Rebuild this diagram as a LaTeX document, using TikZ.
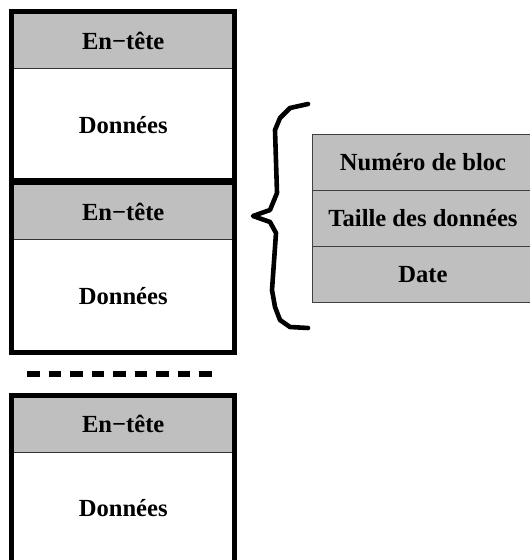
\documentclass[tikz,border=0pt]{standalone}
\usepackage{fontspec}
\setmainfont{Liberation Serif}
\usepackage{tikz}
\usetikzlibrary{positioning}
\definecolor{gris}{rgb}{0.75,0.75,0.75}
\tikzset{
  entete/.style={
    draw=black!80,
    line width=.5pt,
    fill=gris,
    align=center,
    minimum width=111.75pt,
    minimum height=28.5pt,
    inner sep=0pt,
    outer sep=0pt,
    font=\fontsize{12.3}{14}\selectfont\bfseries
  },
  donnees/.style={
    align=center,
    minimum width=111.75pt,
    minimum height=56pt,
    inner sep=0pt,
    outer sep=0pt,
    font=\fontsize{12.3}{14}\selectfont\bfseries
  },
  champ/.style={
    draw=black!75,
    line width=.5pt,
    fill=gris,
    align=center,
    minimum width=111pt,
    minimum height=28pt,
    inner sep=0pt,
    outer sep=0pt,
    font=\fontsize{12.3}{14}\selectfont\bfseries
  },
  cadre/.style={
    line width=2.5pt
  },
  accolade/.style={
    line width=2.3pt,
    line join=round,
    line cap=round
  }
}
\begin{document}
\begin{tikzpicture}[node distance=0pt]
\useasboundingbox (0,0) rectangle (264.5pt,-280pt);
% blocs
\node[entete] (tete1) at (61.6pt,-20.25pt) {En−tête};
\node[donnees,below=of tete1] (don1) {Données};
\node[entete,below=1pt of don1] (tete2) {En−tête};
\node[donnees,below=of tete2] (don2) {Données};
\node[entete,below=21.5pt of don2] (tete3) {En−tête};
\node[donnees,below=of tete3] (don3) {Données};
\draw[cadre] (tete1.north west) rectangle (don1.south east);
\draw[cadre] (tete2.north west) rectangle (don2.south east);
\draw[cadre] (tete3.north west) rectangle (don3.south east);
% pointilles
\coordinate (p1) at (13.5pt,-187pt);
\coordinate (p2) at (106.5pt,-187pt);
\draw[line width=2.6pt,dash pattern=on 6.4pt off 4.35pt] (p1) -- (p2);
% en-tete detaille
\node[champ] (numero) at (211.5pt,-81.25pt) {Numéro de bloc};
\node[champ,below=of numero] (taille) {Taille des données};
\node[champ,below=of taille] (date) {Date};
% accolade
\draw[accolade] (154pt,-52pt) -- (145pt,-54pt) -- (140pt,-59pt) -- (137.5pt,-65pt)
  -- (138.5pt,-96.5pt) -- (135pt,-105pt) -- (126.5pt,-108pt) -- (135pt,-111pt)
  -- (138pt,-116.5pt) -- (136pt,-145pt) -- (137.5pt,-153.5pt) -- (140pt,-160pt)
  -- (145pt,-163.5pt) -- (154pt,-164pt);
\end{tikzpicture}
\end{document}
